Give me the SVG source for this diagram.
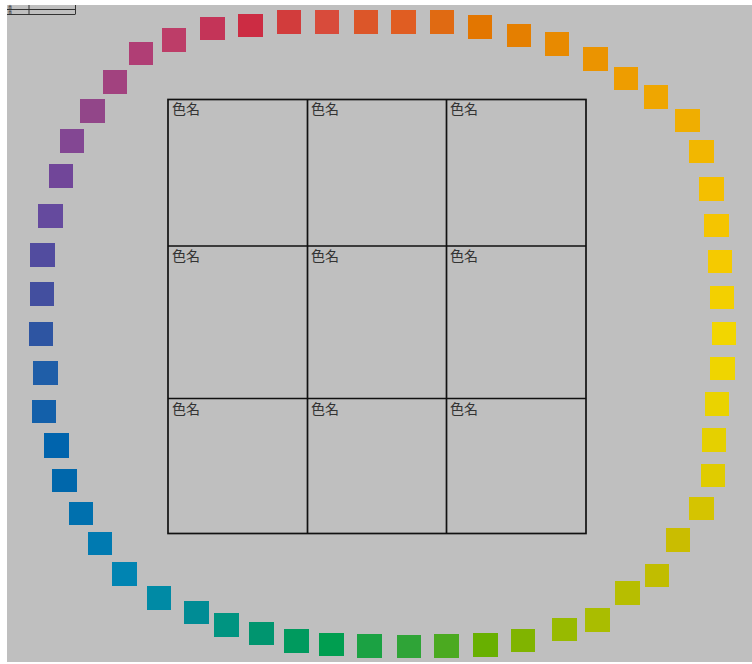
<svg xmlns="http://www.w3.org/2000/svg" width="752" height="664" viewBox="0 0 752 664">
<style>
.sw{stroke:none}
.cell{fill:none;stroke:#111;stroke-width:1.7}
.lbl{font-family:"Noto Sans CJK JP","Noto Sans CJK SC",sans-serif;font-size:14px;fill:#333}
.tiny{font-family:"Noto Sans CJK JP",sans-serif;font-size:4px;fill:#222}
.tl{stroke:#333;stroke-width:1;fill:none}
</style>
<rect x="0" y="0" width="752" height="664" fill="#ffffff"/>
<rect x="7" y="5" width="745" height="657" fill="#bfbfbf"/>
<g id="corner-table">
<path class="tl" d="M7 9.5H75M7 14.5H75M29 5V14.5M75.5 5V14.5"/>
<text class="tiny" x="8" y="8.6">表</text>
<text class="tiny" x="8" y="13.8">表</text>
</g>
<g id="hue-ring">
<rect x="49" y="164" width="24" height="24" fill="#714699"/>
<rect x="60" y="129" width="24" height="24" fill="#834793"/>
<rect x="80" y="99" width="25" height="24" fill="#924689"/>
<rect x="103" y="70" width="24" height="24" fill="#a2427f"/>
<rect x="129" y="42" width="24" height="23" fill="#b03e75"/>
<rect x="162" y="28" width="24" height="24" fill="#bd3d68"/>
<rect x="200" y="17" width="25" height="23" fill="#c43458"/>
<rect x="238" y="14" width="25" height="23" fill="#cc2c43"/>
<rect x="277" y="10" width="24" height="24" fill="#d23c3c"/>
<rect x="315" y="10" width="24" height="24" fill="#d84b3b"/>
<rect x="354" y="10" width="24" height="24" fill="#dc5629"/>
<rect x="391" y="10" width="25" height="24" fill="#e05d22"/>
<rect x="430" y="10" width="24" height="24" fill="#e06a12"/>
<rect x="468" y="15" width="24" height="24" fill="#e37600"/>
<rect x="507" y="24" width="24" height="23" fill="#e57f00"/>
<rect x="545" y="32" width="24" height="24" fill="#e88a00"/>
<rect x="583" y="47" width="25" height="24" fill="#eb9400"/>
<rect x="614" y="67" width="24" height="23" fill="#ee9d00"/>
<rect x="644" y="85" width="24" height="24" fill="#efa600"/>
<rect x="675" y="109" width="25" height="23" fill="#f0ae00"/>
<rect x="689" y="140" width="25" height="23" fill="#f2b700"/>
<rect x="699" y="177" width="25" height="24" fill="#f4bf00"/>
<rect x="704" y="214" width="25" height="23" fill="#f5c500"/>
<rect x="708" y="250" width="24" height="23" fill="#f5ca00"/>
<rect x="710" y="286" width="24" height="23" fill="#f3d000"/>
<rect x="712" y="322" width="24" height="23" fill="#f2d600"/>
<rect x="710" y="357" width="25" height="23" fill="#efd500"/>
<rect x="705" y="392" width="24" height="24" fill="#ead300"/>
<rect x="702" y="428" width="24" height="24" fill="#e5d000"/>
<rect x="701" y="464" width="24" height="23" fill="#e0cc00"/>
<rect x="689" y="497" width="25" height="23" fill="#d5c400"/>
<rect x="666" y="528" width="24" height="24" fill="#cabd00"/>
<rect x="645" y="564" width="24" height="23" fill="#c1bd00"/>
<rect x="615" y="581" width="25" height="24" fill="#b7be00"/>
<rect x="585" y="608" width="25" height="24" fill="#aabd00"/>
<rect x="552" y="618" width="25" height="23" fill="#98ba00"/>
<rect x="511" y="629" width="24" height="23" fill="#80b400"/>
<rect x="473" y="633" width="25" height="24" fill="#68b000"/>
<rect x="434" y="634" width="25" height="24" fill="#4baa20"/>
<rect x="397" y="635" width="24" height="23" fill="#2fa437"/>
<rect x="357" y="634" width="25" height="24" fill="#1ba243"/>
<rect x="319" y="633" width="25" height="23" fill="#009e50"/>
<rect x="284" y="629" width="25" height="24" fill="#009a5e"/>
<rect x="249" y="622" width="25" height="23" fill="#00956f"/>
<rect x="214" y="613" width="25" height="24" fill="#009481"/>
<rect x="184" y="601" width="25" height="23" fill="#008c95"/>
<rect x="147" y="586" width="24" height="24" fill="#008aa5"/>
<rect x="112" y="562" width="25" height="24" fill="#0084b2"/>
<rect x="88" y="532" width="24" height="23" fill="#007ab1"/>
<rect x="69" y="502" width="24" height="23" fill="#0070ae"/>
<rect x="52" y="469" width="25" height="23" fill="#0067ab"/>
<rect x="44" y="433" width="25" height="25" fill="#0064ad"/>
<rect x="32" y="400" width="24" height="23" fill="#1360aa"/>
<rect x="33" y="361" width="25" height="24" fill="#1f5ea8"/>
<rect x="29" y="322" width="24" height="24" fill="#2e55a2"/>
<rect x="30" y="282" width="24" height="24" fill="#434f9f"/>
<rect x="30" y="243" width="25" height="24" fill="#524c9f"/>
<rect x="38" y="204" width="25" height="24" fill="#654a9e"/>
</g>
<g id="grid">
<rect class="cell" x="168" y="99.5" width="418" height="434"/>
<path class="cell" d="M307.5 99.5V533.5M446.5 99.5V533.5M168 246H586M168 398.5H586"/>
</g>
<g id="cell-1-1"><text class="lbl" x="172" y="114">色名</text></g>
<g id="cell-1-2"><text class="lbl" x="311" y="114">色名</text></g>
<g id="cell-1-3"><text class="lbl" x="450" y="114">色名</text></g>
<g id="cell-2-1"><text class="lbl" x="172" y="261">色名</text></g>
<g id="cell-2-2"><text class="lbl" x="311" y="261">色名</text></g>
<g id="cell-2-3"><text class="lbl" x="450" y="261">色名</text></g>
<g id="cell-3-1"><text class="lbl" x="172" y="414">色名</text></g>
<g id="cell-3-2"><text class="lbl" x="311" y="414">色名</text></g>
<g id="cell-3-3"><text class="lbl" x="450" y="414">色名</text></g>
</svg>
